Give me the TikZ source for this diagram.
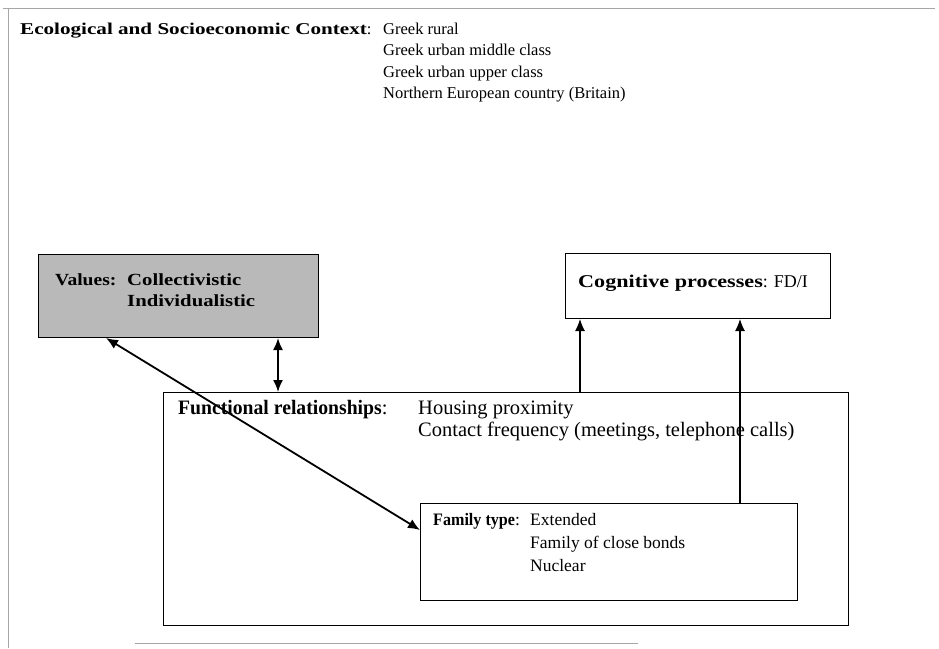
\documentclass[tikz,border=0pt]{standalone}
\usepackage{fontspec}
\usepackage{graphicx}
\setmainfont{Liberation Serif}
\usetikzlibrary{arrows.meta}

% bold heading stretched to the width of the scanned original
\newcommand{\wide}[2]{\scalebox{#1}[1]{\textbf{#2}}}

\tikzset{
  box/.style={draw, line width=1pt, rectangle, anchor=north west, inner sep=0pt},
  lbl/.style={anchor=base west, inner sep=0pt},
  link/.style={line width=1.2pt, -{Latex[length=12pt,width=10pt]}},
  twolink/.style={line width=1.8pt, {Latex[length=12pt,width=10pt]}-{Latex[length=12pt,width=10pt]}},
}

\begin{document}
\begin{tikzpicture}[x=1pt, y=-1pt]
        \useasboundingbox (0,0) rectangle (939,648);
        % ==== OUTER FRAME (scanned page) ====
        \draw[gray!70, line width=0.8pt] (3,8) -- (935,8);
        \draw[gray!70, line width=0.8pt] (8,8) -- (8,648);
        \draw[gray!70, line width=0.8pt] (135,643) -- (638,643);

        % ==== BOXES ====
        \node[box, fill=gray!55, minimum width=280, minimum height=83] (values) at (38,254) {};
        \node[box, minimum width=265, minimum height=65] (cogproc) at (565,253) {};
        \node[box, minimum width=685, minimum height=233] (funcrel) at (163,392) {};
        \node[box, fill=white, minimum width=377, minimum height=97] (famtype) at (420,503) {};

        % ==== TEXTS ====
        \node[lbl, font=\fontsize{16.5}{21.5}\selectfont] (ecohead) at (20,34) {\wide{1.28}{Ecological and Socioeconomic Context}:};
        \node[lbl, font=\fontsize{16.5}{21.5}\selectfont] (ecolist) at (383,34) {\begin{tabular}[t]{@{}l@{}}Greek rural\\ Greek urban middle class\\ Greek urban upper class\\ Northern European country (Britain)\end{tabular}};
        \node[lbl, font=\fontsize{17}{21}\selectfont] (valhead) at (55,285) {\wide{1.15}{Values:}};
        \node[lbl, font=\fontsize{17}{21}\selectfont] (vallist) at (127,285) {\begin{tabular}[t]{@{}l@{}}\wide{1.22}{Collectivistic}\\ \wide{1.22}{Individualistic}\end{tabular}};
        \node[lbl, font=\fontsize{18}{22}\selectfont] (coghead) at (578,287) {\wide{1.23}{Cognitive processes}: FD/I};
        \node[lbl, font=\fontsize{20.5}{22}\selectfont] (funchead) at (178,414) {\wide{0.96}{Functional relationships}:};
        \node[lbl, font=\fontsize{20.5}{22}\selectfont] (funclist) at (418,414) {\begin{tabular}[t]{@{}l@{}}Housing proximity\\ Contact frequency (meetings, telephone calls)\end{tabular}};
        \node[lbl, font=\fontsize{17.5}{23}\selectfont] (famhead) at (433,525) {\wide{0.92}{Family type}:};
        \node[lbl, font=\fontsize{17.5}{23}\selectfont] (famlist) at (530,525) {\begin{tabular}[t]{@{}l@{}}Extended\\ Family of close bonds\\ Nuclear\end{tabular}};

        % ==== CONNECTORS ====
        \coordinate (xval) at (278,0);
        \coordinate (xcoga) at (580,0);
        \coordinate (xcogb) at (740,0);
        \draw[twolink] (values.south -| xval) -- (funcrel.north -| xval);
        \draw[twolink] ([xshift=68pt]values.south west) -- ([yshift=-27pt]famtype.north west);
        \draw[link] (funcrel.north -| xcoga) -- (cogproc.south -| xcoga);
        \draw[link] (famtype.north -| xcogb) -- (cogproc.south -| xcogb);
\end{tikzpicture}
\end{document}
